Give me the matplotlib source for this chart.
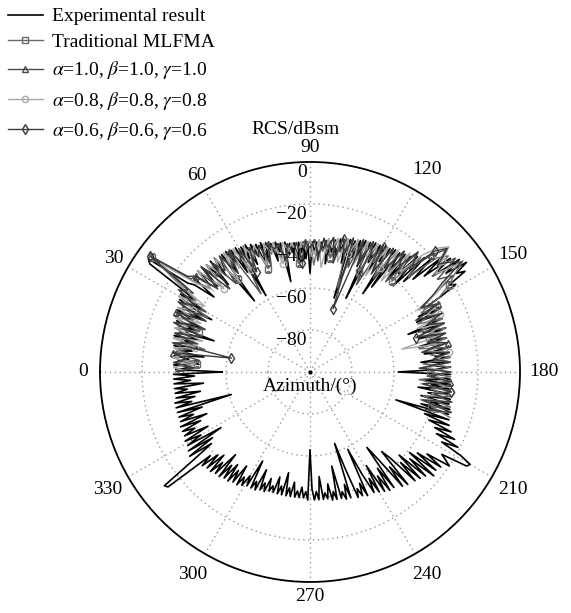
import numpy as np
import matplotlib.pyplot as plt
from matplotlib.transforms import offset_copy

plt.rcParams['font.family'] = 'Liberation Serif'
plt.rcParams['mathtext.fontset'] = 'stix'

# Medido: RCS (dBsm) a cada 1 grau, de 0 a 359
exp_rcs = [
    -58, -36, -44, -35, -47, -37, -42, -35, -49, -36,
    -43, -34, -48, -37, -41, -33, -45, -35, -52, -34,
    -42, -32, -46, -34, -39, -30, -44, -32, -47, -29,
    -40, -28, -35, -26, -8, -6, -28, -31, -42, -29,
    -29, -37, -28, -40, -28, -36, -29, -43, -29, -39,
    -30, -38, -57, -30, -41, -30, -37, -31, -44, -31,
    -58, -32, -39, -32, -43, -33, -38, -34, -46, -34,
    -42, -35, -40, -36, -45, -36, -41, -37, -56, -37,
    -43, -38, -42, -38, -47, -38, -43, -38, -46, -38,
    -53, -38, -43, -38, -46, -38, -42, -37, -48, -37,
    -42, -36, -44, -35, -41, -35, -46, -34, -63, -34,
    -42, -33, -40, -32, -45, -32, -61, -31, -41, -31,
    -44, -30, -38, -30, -55, -29, -50, -29, -39, -28,
    -41, -27, -37, -25, -43, -23, -38, -21, -34, -17,
    -29, -14, -26, -11, -20, -9, -16, -12, -22, -19,
    -28, -38, -30, -42, -31, -44, -31, -39, -32, -50,
    -32, -43, -32, -46, -33, -41, -33, -47, -33, -42,
    -33, -45, -33, -40, -33, -47, -34, -43, -33, -41,
    -58, -33, -44, -33, -47, -33, -42, -33, -48, -33,
    -43, -32, -46, -32, -41, -31, -45, -31, -57, -30,
    -42, -29, -39, -27, -35, -24, -33, -21, -29, -18,
    -12, -13, -26, -23, -20, -32, -23, -36, -24, -39,
    -23, -37, -26, -42, -27, -39, -28, -44, -49, -29,
    -41, -30, -47, -55, -32, -44, -32, -41, -33, -48,
    -34, -42, -35, -45, -59, -35, -42, -36, -40, -36,
    -51, -64, -37, -44, -37, -41, -38, -54, -38, -42,
    -38, -46, -39, -42, -39, -50, -39, -43, -39, -44,
    -63, -39, -43, -40, -45, -40, -43, -40, -47, -40,
    -44, -40, -51, -40, -44, -40, -48, -40, -43, -40,
    -46, -39, -43, -39, -49, -38, -42, -38, -52, -38,
    -43, -37, -41, -36, -46, -36, -42, -35, -44, -35,
    -42, -34, -47, -34, -40, -33, -43, -33, -41, -32,
    -38, -13, -12, -31, -42, -30, -44, -31, -50, -32,
    -40, -32, -45, -33, -39, -33, -43, -33, -47, -34,
    -41, -34, -46, -34, -61, -34, -42, -34, -44, -35,
    -47, -35, -41, -35, -49, -35, -43, -35, -45, -35,
]

# Simulações: a cada 2 graus, de 0 a 198
sim_az = list(range(0, 200, 2))
mlfma = [
    -40, -35, -46, -34, -42, -36, -49, -33, -41, -33,
    -44, -31, -39, -30, -45, -28, -36, -24, -7, -30,
    -38, -28, -42, -29, -36, -29, -44, -30, -39, -31,
    -45, -32, -40, -34, -47, -35, -41, -36, -44, -37,
    -42, -38, -48, -38, -43, -37, -49, -37, -42, -36,
    -45, -35, -41, -34, -58, -33, -43, -32, -47, -31,
    -40, -30, -46, -29, -39, -27, -42, -24, -35, -19,
    -14, -26, -10, -17, -22, -29, -40, -31, -44, -32,
    -45, -32, -41, -33, -47, -33, -42, -33, -46, -33,
    -43, -33, -48, -33, -42, -32, -45, -31, -40, -30,
]
alfa10 = [
    -36, -43, -35, -47, -34, -40, -33, -45, -33, -39,
    -31, -46, -30, -38, -29, -43, -26, -33, -10, -28,
    -29, -41, -28, -37, -30, -45, -30, -38, -31, -56,
    -32, -43, -34, -39, -35, -46, -36, -41, -37, -48,
    -38, -43, -38, -46, -38, -41, -37, -47, -36, -42,
    -35, -44, -34, -40, -33, -47, -32, -41, -31, -53,
    -30, -43, -29, -38, -27, -44, -24, -32, -20, -13,
    -21, -12, -25, -18, -30, -38, -31, -43, -32, -39,
    -32, -46, -33, -41, -33, -45, -33, -40, -33, -47,
    -33, -42, -33, -46, -32, -41, -31, -44, -30, -38,
]
alfa08 = [
    -42, -35, -45, -34, -40, -34, -44, -33, -47, -32,
    -38, -31, -43, -30, -37, -28, -41, -25, -12, -32,
    -39, -28, -43, -29, -37, -30, -46, -30, -40, -31,
    -44, -33, -38, -34, -45, -35, -40, -36, -47, -37,
    -41, -38, -45, -38, -40, -37, -44, -37, -50, -36,
    -40, -35, -46, -34, -41, -33, -45, -32, -39, -31,
    -47, -30, -40, -28, -45, -26, -36, -22, -15, -11,
    -18, -24, -13, -22, -29, -41, -31, -38, -32, -45,
    -32, -40, -33, -55, -33, -43, -33, -39, -33, -44,
    -34, -40, -33, -47, -32, -41, -31, -46, -30, -39,
]
alfa06 = [
    -37, -45, -35, -41, -34, -62, -34, -43, -33, -46,
    -31, -40, -30, -45, -29, -37, -27, -30, -6, -26,
    -29, -40, -29, -45, -30, -37, -30, -42, -31, -38,
    -33, -46, -34, -40, -35, -44, -36, -39, -37, -45,
    -38, -42, -38, -48, -38, -41, -37, -45, -36, -40,
    -35, -47, -34, -42, -33, -68, -32, -44, -31, -40,
    -30, -45, -29, -39, -27, -34, -23, -30, -17, -12,
    -20, -15, -11, -24, -31, -39, -31, -44, -32, -40,
    -32, -47, -33, -42, -33, -46, -33, -41, -33, -48,
    -33, -43, -33, -46, -32, -40, -31, -45, -30, -42,
]

fig = plt.figure(figsize=(5.71, 6.13), dpi=100)
ax = fig.add_axes([0.1751, 0.0506, 0.7356, 0.6852], projection='polar')
ax.set_theta_zero_location('W')
ax.set_theta_direction(-1)
ax.set_rlim(-100, 0)

ang_exp = np.radians(np.arange(0, 361))
ax.plot(ang_exp, exp_rcs + exp_rcs[:1], color='black', lw=1.2,
        label='Experimental result')

ang_sim = np.radians(sim_az)
ax.plot(ang_sim, mlfma, color='#6a6a6a', lw=1.0, marker='s', ms=4.5,
        mfc='none', markevery=(2, 8), label='Traditional MLFMA')
ax.plot(ang_sim, alfa10, color='#4a4a4a', lw=1.0, marker='^', ms=4.5,
        mfc='none', markevery=(4, 8), label=r'$\alpha$=1.0, $\beta$=1.0, $\gamma$=1.0')
ax.plot(ang_sim, alfa08, color='#a8a8a8', lw=1.0, marker='o', ms=4.5,
        mfc='none', markevery=(6, 8), label=r'$\alpha$=0.8, $\beta$=0.8, $\gamma$=0.8')
ax.plot(ang_sim, alfa06, color='#3a3a3a', lw=1.0, marker='d', ms=5,
        mfc='none', markevery=[5, 18, 31, 43, 55, 68, 81, 94],
        label=r'$\alpha$=0.6, $\beta$=0.6, $\gamma$=0.6')

# grade pontilhada
ax.set_rticks([-80, -60, -40, -20, 0])
ax.set_yticklabels([])
ax.set_thetagrids(range(0, 360, 30), labels=[''] * 12)
ax.grid(True, color='#9a9a9a', linestyle=(0, (1, 2.5)), linewidth=1)
ax.spines['polar'].set_linewidth(1.3)

# ângulos fora do círculo
for a in range(0, 360, 30):
    if a in (90, 270):
        r_txt = 7
    elif a >= 100:
        r_txt = 11.5
    else:
        r_txt = 8
    ax.text(np.radians(a), r_txt, str(a), ha='center', va='center',
            fontsize=14, clip_on=False)

# rótulos radiais ao lado da linha de 90 graus
trans = offset_copy(ax.transData, fig=fig, x=-3, y=0, units='dots')
for v in [0, -20, -40, -60, -80]:
    ax.text(np.radians(90), v - 5, '\u2212' + str(abs(v)) if v else '0',
            transform=trans, ha='right', va='center', fontsize=14)

ax.plot([0], [-100], 'k.', ms=4)
ax.text(np.radians(270), -93, 'Azimuth/(°)', ha='center', va='center', fontsize=14)

fig.text(0.518, 0.789, 'RCS/dBsm', ha='center', va='center', fontsize=14)

fig.legend(loc='upper left', bbox_to_anchor=(0.0, 1.0), frameon=False,
           fontsize=14, handlelength=1.8, handletextpad=0.5, labelspacing=0.42,
           borderpad=0.2, borderaxespad=0.2)

plt.savefig('out.png', dpi=100)
